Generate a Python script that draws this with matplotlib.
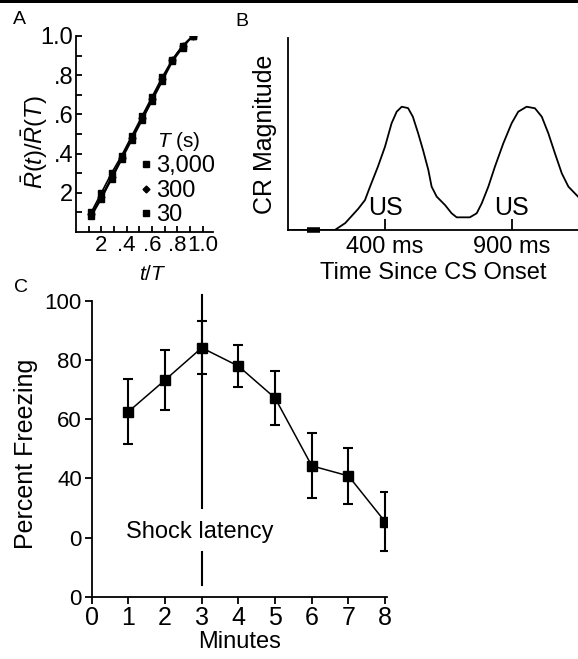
import matplotlib
matplotlib.use('Agg')
import matplotlib.pyplot as plt
from matplotlib.lines import Line2D
from matplotlib.patches import Rectangle

plt.rcParams['font.family'] = ['Liberation Sans', 'DejaVu Sans']
plt.rcParams['mathtext.fontset'] = 'custom'
plt.rcParams['mathtext.it'] = 'Liberation Sans:italic'
plt.rcParams['mathtext.rm'] = 'Liberation Sans'

# panel A: normalized response vs t/T for three trial durations
t_over_T = [0.12, 0.2, 0.28, 0.36, 0.44, 0.52, 0.6, 0.68, 0.76, 0.84, 0.92]
r_3000 = [0.08, 0.17, 0.27, 0.37, 0.47, 0.57, 0.67, 0.77, 0.87, 0.94, 1.0]
r_300 = [0.09, 0.18, 0.28, 0.38, 0.48, 0.58, 0.68, 0.78, 0.88, 0.95, 1.0]
r_30 = [0.10, 0.20, 0.30, 0.39, 0.49, 0.59, 0.69, 0.79, 0.88, 0.95, 1.0]
legend_labels = ['3,000', '300', '30']
a_xticks = [0.2, 0.4, 0.6, 0.8, 1.0]
a_xticklabels = ['2', '.4', '.6', '.8', '1.0']
a_yticks = [0.2, 0.4, 0.6, 0.8, 1.0]
a_yticklabels = ['2', '.4', '.6', '.8', '1.0']

# panel B: CR magnitude trace (ms, arbitrary units)
b_time = [17, 150, 202, 243, 294, 321, 341, 372, 400, 426, 446, 466, 491, 510,
          531, 550, 571, 584, 604, 637, 663, 683, 735, 762, 782, 808, 834, 867,
          900, 926, 959, 992, 1019, 1045, 1071, 1098, 1124, 1162]
b_mag = [0, 0, 0, 0.036, 0.11, 0.156, 0.226, 0.33, 0.434, 0.556, 0.616, 0.642,
         0.635, 0.59, 0.503, 0.417, 0.313, 0.226, 0.174, 0.13, 0.087, 0.066,
         0.066, 0.087, 0.139, 0.226, 0.33, 0.451, 0.556, 0.616, 0.642, 0.634,
         0.59, 0.503, 0.399, 0.295, 0.226, 0.174]
cs_mark = [91, 143]
us_times = [400, 900]
b_ticklabels = ['400 ms', '900 ms']

# panel C: percent freezing per minute
minutes = [1, 2, 3, 4, 5, 6, 7, 8]
freezing = [62.5, 73.2, 84.1, 77.9, 67.1, 44.2, 40.8, 25.3]
freezing_err = [11, 10, 9, 7, 9, 11, 9.6, 10]
shock_minute = 3
c_yticks = [0, 20, 40, 60, 80, 100]
c_yticklabels = ['0', '0', '40', '60', '80', '100']

W, H = 578, 659
fig = plt.figure(figsize=(W / 100, H / 100), dpi=100)


def box(l, r, b, t):
    return [l / W, (H - b) / H, (r - l) / W, (b - t) / H]


lw = 1.3

# ---- A ----
axA = fig.add_axes(box(76, 213, 232, 36))
for vals, mk, ms in [(r_3000, 's', 4), (r_300, 'D', 3.5), (r_30, 's', 4.5)]:
    axA.plot(t_over_T, vals, color='black', lw=1.2, marker=mk, ms=ms)
axA.set_xlim(0, 1.08)
axA.set_ylim(0, 1.0)
axA.set_xticks(a_xticks)
axA.set_xticklabels(a_xticklabels)
axA.set_yticks(a_yticks)
axA.set_yticklabels(a_yticklabels)
axA.set_xticks([0.1, 0.3, 0.5, 0.7, 0.9], minor=True)
axA.set_yticks([0.1, 0.3, 0.5, 0.7, 0.9], minor=True)
axA.tick_params(which='both', direction='in', length=4, width=lw, pad=2)
axA.tick_params(axis='y', labelsize=17)
axA.tick_params(axis='x', labelsize=16)
axA.spines[['top', 'right']].set_visible(False)
axA.spines[['left', 'bottom']].set_linewidth(lw)
axA.set_ylabel(r'$\bar{R}(t)/\bar{R}(T)$', fontsize=17)
axA.yaxis.set_label_coords(-0.19, 0.46)
axA.set_xlabel(r'$t/T$', fontsize=15)
axA.xaxis.set_label_coords(0.56, -0.17)
handles = [Line2D([], [], color='black', ls='none', marker=m, ms=s)
           for m, s in [('s', 4), ('D', 3.5), ('s', 4.5)]]
axA.legend(handles, legend_labels, title=r'$T$ (s)', frameon=False, fontsize=17,
           title_fontsize=15, loc='upper left', bbox_to_anchor=(0.48, 0.52),
           handlelength=0.4, handletextpad=0.2, labelspacing=0.1,
           borderpad=0, borderaxespad=0)
fig.text(19 / W, 1 - 19 / H, 'A', fontsize=14, ha='center', va='center')

# ---- B ----
axB = fig.add_axes(box(288, 578, 230, 38))
axB.plot(b_time, b_mag, color='black', lw=1.3)
axB.plot(cs_mark, [0, 0], color='black', lw=4, solid_capstyle='butt', clip_on=False)
axB.set_xlim(17, 1162)
axB.set_ylim(0, 1)
axB.set_xticks(us_times)
axB.set_xticklabels(b_ticklabels)
axB.set_yticks([])
axB.tick_params(direction='in', length=8, width=lw, labelsize=17, pad=4)
axB.spines[['top', 'right']].set_visible(False)
axB.spines[['left', 'bottom']].set_linewidth(lw)
for t in us_times:
    axB.text(t, 0.115, 'US', fontsize=18, ha='center', va='center')
axB.set_ylabel('CR Magnitude', fontsize=18, labelpad=8)
axB.set_xlabel('Time Since CS Onset', fontsize=17, labelpad=3)
fig.text(242 / W, 1 - 22 / H, 'B', fontsize=14, ha='center', va='center')

# ---- C ----
axC = fig.add_axes(box(91.7, 387, 596.7, 300.7))
axC.errorbar(minutes, freezing, yerr=freezing_err, color='black', lw=1.1,
             marker='s', ms=7, capsize=3.5, elinewidth=1.5, capthick=1.5)
axC.plot([shock_minute, shock_minute], [102, 30], color='black', lw=1.5, clip_on=False)
axC.plot([shock_minute, shock_minute], [15, 4], color='black', lw=1.5)
axC.text(2.95, 22, 'Shock latency', fontsize=17, ha='center', va='center')
axC.set_xlim(0, 8.05)
axC.set_ylim(0, 100)
axC.set_xticks(range(0, 9))
axC.set_yticks(c_yticks)
axC.set_yticklabels(c_yticklabels)
axC.tick_params(direction='out', length=5, width=lw, pad=2)
axC.tick_params(axis='x', labelsize=18)
axC.tick_params(axis='y', labelsize=16)
axC.spines[['top', 'right']].set_visible(False)
axC.spines[['left', 'bottom']].set_linewidth(lw)
axC.set_ylabel('Percent Freezing', fontsize=18)
axC.yaxis.set_label_coords(-0.182, 0.484)
axC.set_xlabel('Minutes', fontsize=17)
axC.xaxis.set_label_coords(0.5, -0.115)
fig.text(21 / W, 1 - 287 / H, 'C', fontsize=14, ha='center', va='center')

# black rule along the top edge
fig.add_artist(Rectangle((0, 1 - 3 / H), 1, 3 / H, transform=fig.transFigure,
                         color='black', lw=0))

fig.savefig('out.png', dpi=100)
